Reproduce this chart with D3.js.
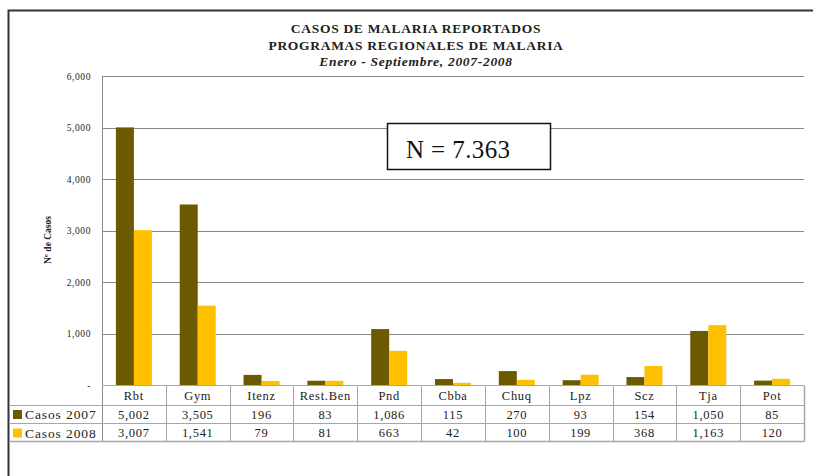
<!DOCTYPE html>
<html><head><meta charset="utf-8">
<script src="https://cdn.jsdelivr.net/npm/d3@7"></script>
<style>body{margin:0;background:#fff;}svg{display:block;}</style>
</head><body>
<script>
const categories = ["Rbt","Gym","Itenz","Rest.Ben","Pnd","Cbba","Chuq","Lpz","Scz","Tja","Pot"];
const casos2007 = [5002,3505,196,83,1086,115,270,93,154,1050,85];
const casos2008 = [3007,1541,79,81,663,42,100,199,368,1163,120];
const seriesNames = ["Casos 2007","Casos 2008"];
const yTicks = [0,1000,2000,3000,4000,5000,6000];
const titleLines = ["CASOS DE MALARIA REPORTADOS","PROGRAMAS REGIONALES DE MALARIA"];
const subtitle = "Enero - Septiembre, 2007-2008";
const annotation = "N = 7.363";

(function(){
const W=813,H=476;
const colors=["#6b5a00","#ffc000"];
const serif="'Liberation Serif','DejaVu Serif',serif";
const svg=d3.select("body").append("svg").attr("width",W).attr("height",H);

// frame
svg.append("path").attr("d","M8.5,476 L8.5,10.5 L813,10.5").attr("fill","none").attr("stroke","#333").attr("stroke-width",2);

const pLeft=102,pRight=804,pTop=76,pBottom=385;
const x=d3.scaleBand().domain(categories).range([pLeft,pRight]);
const y=d3.scaleLinear().domain([0,6000]).range([pBottom,pTop]);
const xs=d3.scaleBand().domain([0,1]).range([0,36]);

// gridlines
svg.append("g").selectAll("line").data(yTicks).join("line")
 .attr("x1",pLeft).attr("x2",pRight).attr("y1",d=>Math.round(y(d))+0.5).attr("y2",d=>Math.round(y(d))+0.5)
 .attr("stroke","#8a8a8a").attr("stroke-width",1);

// y axis
const yAxis=d3.axisLeft(y).tickValues(yTicks).tickSize(0).tickPadding(11)
 .tickFormat(d=>d===0?"-":d3.format(",")(d));
const ga=svg.append("g").attr("transform",`translate(${pLeft},0)`).call(yAxis);
ga.select(".domain").remove();
ga.selectAll("text").attr("font-family",serif).attr("font-size",9.5).attr("fill","#222").attr("letter-spacing",0.6);
svg.append("line").attr("x1",pLeft+0.5).attr("x2",pLeft+0.5).attr("y1",pTop).attr("y2",441.5).attr("stroke","#8a8a8a");

svg.append("text").attr("transform","translate(51,240) rotate(-90)").attr("text-anchor","middle")
 .attr("font-family",serif).attr("font-size",9.5).attr("font-weight","bold").attr("fill","#222").text("Nº de Casos");

// bars
const series=[casos2007,casos2008];
series.forEach((vals,si)=>{
  svg.append("g").selectAll("rect").data(vals).join("rect")
   .attr("x",(d,i)=>x(categories[i])+x.bandwidth()/2-18+xs(si))
   .attr("width",xs.bandwidth())
   .attr("y",d=>y(d)).attr("height",d=>pBottom-y(d))
   .attr("fill",colors[si]);
});

// title
const tg=svg.append("g").attr("font-family",serif).attr("text-anchor","middle").attr("fill","#222");
titleLines.forEach((t,i)=>tg.append("text").attr("x",416).attr("y",33+i*16.5).attr("font-size",13.5).attr("font-weight","bold").attr("letter-spacing",0.7).text(t));
tg.append("text").attr("x",416).attr("y",66).attr("font-size",13.5).attr("font-weight","bold").attr("font-style","italic").attr("letter-spacing",0.7).text(subtitle);

// annotation box
svg.append("rect").attr("x",387.5).attr("y",123.5).attr("width",163).attr("height",46).attr("fill","#fff").attr("stroke","#111").attr("stroke-width",1.5);
svg.append("text").attr("x",406).attr("y",158).attr("font-family","'Liberation Serif',serif").attr("font-size",25).attr("letter-spacing",0.4).attr("fill","#111").text(annotation);

// data table
const rowY=[385.5,405.5,423.5,441.5];
const tb=svg.append("g");
const gridC="#a6a6a6";
tb.append("line").attr("x1",pLeft).attr("x2",pRight).attr("y1",rowY[0]).attr("y2",rowY[0]).attr("stroke",gridC);
[1,2,3].forEach(r=>tb.append("line").attr("x1",9).attr("x2",pRight).attr("y1",rowY[r]).attr("y2",rowY[r]).attr("stroke",gridC).attr("stroke-width",r===3?1.5:1));
categories.forEach(c=>{
  tb.append("line").attr("x1",Math.round(x(c)+x.bandwidth())+0.5).attr("x2",Math.round(x(c)+x.bandwidth())+0.5)
    .attr("y1",rowY[0]).attr("y2",rowY[3]).attr("stroke",gridC).attr("stroke-width",c===categories[categories.length-1]?1.5:1);
});
const tt=tb.append("g").attr("font-family",serif).attr("font-size",12.5).attr("fill","#222").attr("text-anchor","middle").attr("letter-spacing",0.7);
categories.forEach((c,i)=>{
  const cx=x(c)+x.bandwidth()/2;
  tt.append("text").attr("x",cx).attr("y",400).text(c);
  tt.append("text").attr("x",cx).attr("y",419).text(d3.format(",")(casos2007[i]));
  tt.append("text").attr("x",cx).attr("y",437).text(d3.format(",")(casos2008[i]));
});
seriesNames.forEach((s,i)=>{
  tb.append("rect").attr("x",13).attr("y",410+i*18.5).attr("width",9).attr("height",9).attr("fill",colors[i]);
  tb.append("text").attr("x",25).attr("y",419+i*18.5).attr("font-family",serif).attr("font-size",13.5).attr("letter-spacing",0.9).attr("fill","#222").text(s);
});
})();
</script>
</body></html>
